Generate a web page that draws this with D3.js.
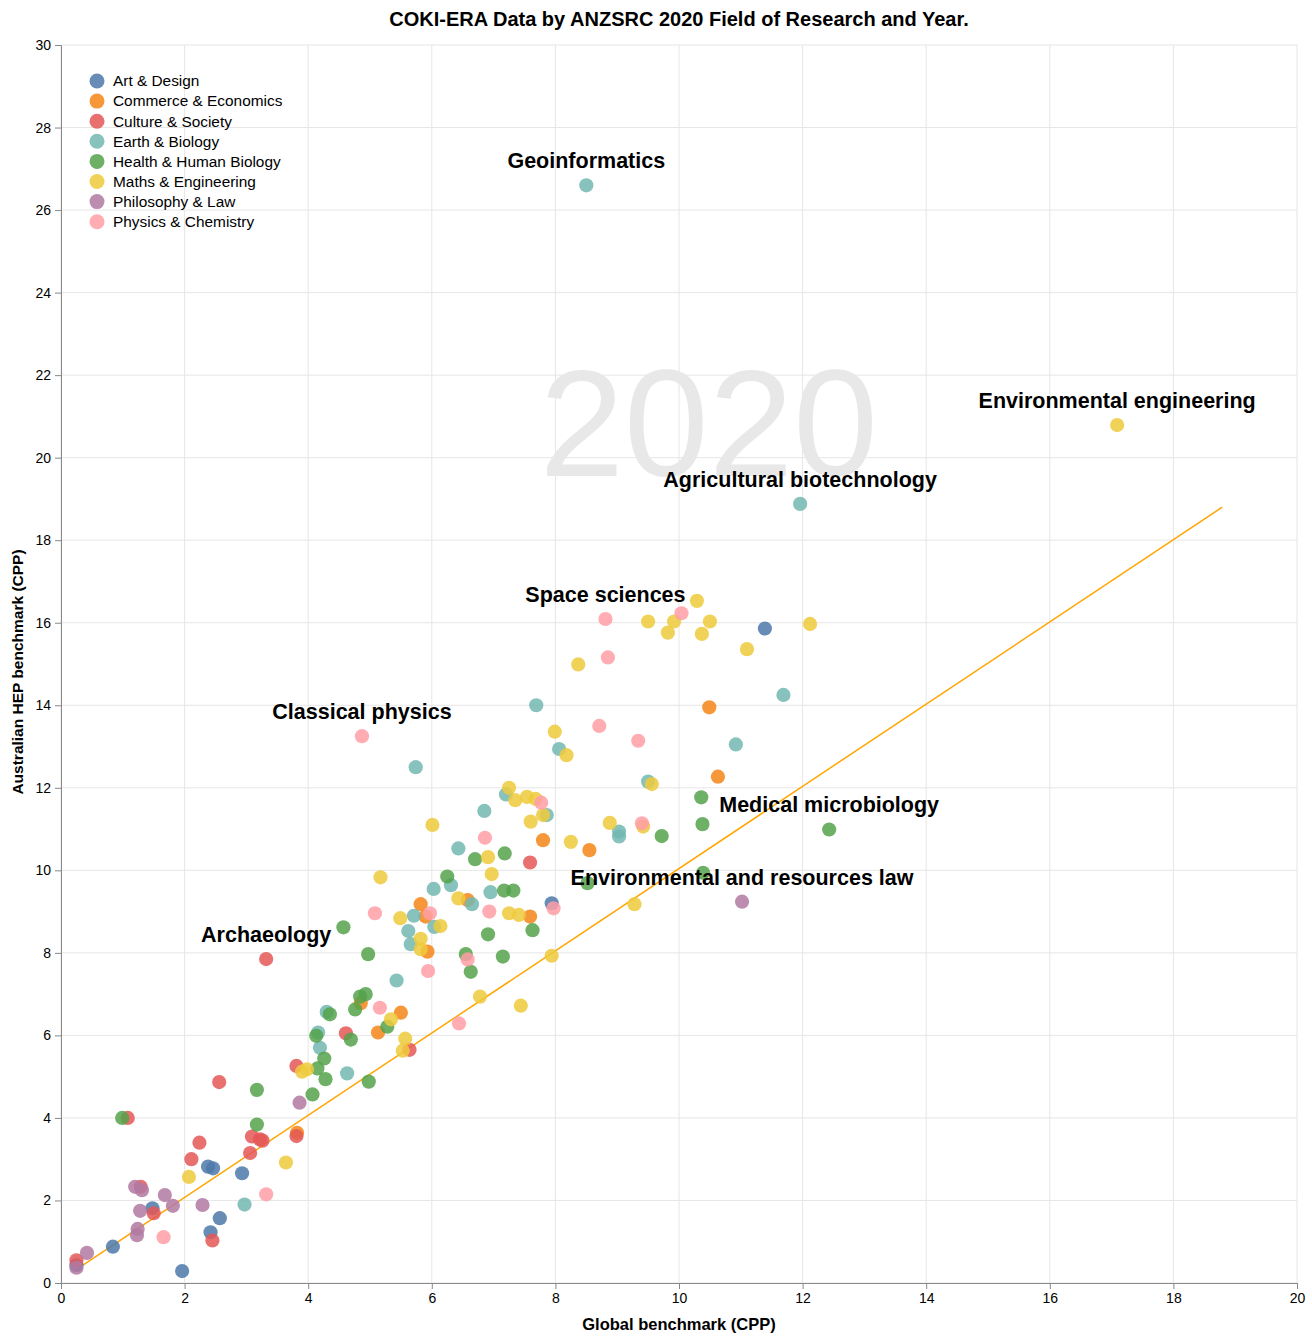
<!DOCTYPE html>
<html>
<head>
<meta charset="utf-8">
<script src="https://cdn.jsdelivr.net/npm/d3@7"></script>
<style>
html,body{margin:0;padding:0;background:#fff;}
svg{display:block;font-family:"Liberation Sans",Arial,Helvetica,sans-serif;}
</style>
</head>
<body>
<svg id="chart" width="1312" height="1336"></svg>
<script>
// ---- Data ----
const categories = ["Art & Design","Commerce & Economics","Culture & Society","Earth & Biology","Health & Human Biology","Maths & Engineering","Philosophy & Law","Physics & Chemistry"];
const colors = ["#4c78a8","#f58518","#e45756","#72b7b2","#54a24b","#eeca3b","#b279a2","#ff9da6"];

const artDesign = [[0.84,0.88],[1.48,1.81],[1.96,0.29],[2.57,1.57],[2.42,1.23],[2.38,2.82],[2.46,2.78],[2.93,2.66],[11.39,15.86],[7.94,9.2],[0.25,0.43]];
const commerceEconomics = [[3.82,3.64],[4.85,6.78],[5.5,6.55],[5.13,6.07],[5.82,9.18],[5.9,8.88],[5.93,8.03],[6.58,9.28],[7.59,8.88],[7.8,10.73],[8.55,10.49],[10.49,13.95],[10.63,12.27]];
const cultureSociety = [[0.25,0.55],[1.29,2.33],[1.5,1.69],[2.45,1.03],[2.56,4.87],[3.09,3.55],[3.22,3.48],[3.26,3.45],[2.24,3.4],[2.11,3.0],[3.06,3.15],[3.81,3.56],[3.81,5.26],[4.61,6.05],[5.64,5.65],[7.59,10.19],[3.32,7.85],[1.08,4.0]];
const earthBiology = [[2.97,1.9],[4.63,5.08],[4.19,5.7],[4.16,6.07],[4.3,6.57],[5.43,7.33],[6.03,9.55],[6.31,9.64],[5.71,8.9],[6.04,8.63],[5.62,8.53],[5.66,8.21],[6.65,9.18],[6.95,9.47],[5.74,12.5],[8.06,12.94],[7.2,11.84],[7.86,11.34],[6.85,11.44],[6.43,10.53],[11.69,14.25],[7.69,14.0],[10.92,13.05],[9.5,12.15],[9.03,10.94],[9.03,10.82],[8.5,26.6],[11.96,18.88]];
const healthHumanBiology = [[0.99,4.0],[3.17,4.68],[3.17,3.84],[4.07,4.57],[4.15,5.2],[4.26,5.44],[4.28,4.94],[4.98,4.88],[4.13,5.99],[4.35,6.51],[4.76,6.63],[4.69,5.9],[4.84,6.94],[4.93,7.0],[5.28,6.21],[4.57,8.62],[4.97,7.97],[6.25,9.85],[7.17,9.51],[7.32,9.51],[6.91,8.45],[6.55,7.97],[6.63,7.54],[7.15,7.91],[6.7,10.27],[7.18,10.41],[7.63,8.55],[8.52,9.69],[10.36,11.77],[10.38,11.12],[9.72,10.83],[12.43,10.99],[10.39,9.94]];
const mathsEngineering = [[2.07,2.57],[3.64,2.92],[3.9,5.12],[3.98,5.18],[5.34,6.39],[5.57,5.92],[5.53,5.63],[5.17,9.83],[5.49,8.84],[6.14,8.65],[5.82,8.34],[5.82,8.09],[6.43,9.32],[7.25,8.96],[7.41,8.92],[6.78,6.94],[6.97,9.91],[6.91,10.32],[6.01,11.1],[8.18,12.79],[7.25,12.0],[7.35,11.7],[7.54,11.78],[7.68,11.73],[7.8,11.34],[7.6,11.18],[8.25,10.69],[10.29,16.53],[9.5,16.03],[9.92,16.03],[10.5,16.03],[9.82,15.76],[10.37,15.73],[11.1,15.36],[8.37,14.99],[7.99,13.36],[9.56,12.09],[8.88,11.15],[9.42,11.06],[9.28,9.18],[7.94,7.93],[7.44,6.72],[17.09,20.79],[12.12,15.97]];
const philosophyLaw = [[0.25,0.37],[0.42,0.73],[1.2,2.33],[1.31,2.25],[1.28,1.75],[1.24,1.31],[1.23,1.16],[1.68,2.13],[1.81,1.87],[2.29,1.89],[3.86,4.37],[11.02,9.24]];
const physicsChemistry = [[1.66,1.11],[3.32,2.15],[5.16,6.67],[5.08,8.96],[5.97,8.96],[5.94,7.56],[6.93,9.0],[6.58,7.84],[6.44,6.29],[6.86,10.79],[7.77,11.64],[7.97,9.08],[8.81,16.09],[10.04,16.23],[8.85,15.16],[8.71,13.5],[9.34,13.14],[9.4,11.14],[4.87,13.25]];

const seriesValues = [artDesign,commerceEconomics,cultureSociety,earthBiology,healthHumanBiology,mathsEngineering,philosophyLaw,physicsChemistry];

const annotationLabels = ["Geoinformatics","Environmental engineering","Agricultural biotechnology","Space sciences","Classical physics","Medical microbiology","Environmental and resources law","Archaeology"];
const annotationX = [8.5,17.09,11.96,8.81,4.87,12.43,11.02,3.32];
const annotationY = [26.6,20.79,18.88,16.09,13.25,10.99,9.24,7.85];

const trendX = [0.21,18.79];
const trendY = [0.29,18.80];

const xTicks = [0,2,4,6,8,10,12,14,16,18,20];
const yTicks = [0,2,4,6,8,10,12,14,16,18,20,22,24,26,28,30];

const titleText = "COKI-ERA Data by ANZSRC 2020 Field of Research and Year.";
const xTitle = "Global benchmark (CPP)";
const yTitle = "Australian HEP benchmark (CPP)";
const yearLabel = "2020";

// ---- Chart ----
const svg = d3.select("#chart");
const mLeft = 61, mRight = 1297, mTop = 45, mBottom = 1283;
const x = d3.scaleLinear().domain([0,20]).range([mLeft,mRight]);
const y = d3.scaleLinear().domain([0,30]).range([mBottom,mTop]);
const color = d3.scaleOrdinal().domain(categories).range(colors);

// grid
const grid = svg.append("g");
grid.selectAll("line.gx").data(xTicks).join("line").attr("class","gx")
  .attr("x1",d=>x(d)).attr("x2",d=>x(d)).attr("y1",mTop).attr("y2",mBottom)
  .attr("stroke","#e6e6e6").attr("stroke-width",1);
grid.selectAll("line.gy").data(yTicks).join("line").attr("class","gy")
  .attr("y1",d=>y(d)).attr("y2",d=>y(d)).attr("x1",mLeft).attr("x2",mRight)
  .attr("stroke","#e6e6e6").attr("stroke-width",1);

// watermark year
svg.append("text").attr("x",x(10.48)).attr("y",476)
  .attr("text-anchor","middle").attr("font-size",152).attr("fill","#e8e8e8")
  .text(yearLabel);

// axes
const xAxis = d3.axisBottom(x).tickValues(xTicks).tickSize(6).tickPadding(4);
const yAxis = d3.axisLeft(y).tickValues(yTicks).tickSize(6).tickPadding(4);
const gx = svg.append("g").attr("transform",`translate(0,${mBottom})`).call(xAxis);
const gy = svg.append("g").attr("transform",`translate(${mLeft},0)`).call(yAxis);
[gx,gy].forEach(g=>{
  g.select(".domain").attr("stroke","#888");
  g.selectAll(".tick line").attr("stroke","#888");
  g.selectAll(".tick text").attr("font-size",14).attr("fill","#000")
    .attr("font-family","'Liberation Sans',Arial,sans-serif");
});

// trend line
svg.append("line")
  .attr("x1",x(trendX[0])).attr("y1",y(trendY[0]))
  .attr("x2",x(trendX[1])).attr("y2",y(trendY[1]))
  .attr("stroke","#ffa500").attr("stroke-width",1.5);

// points
const pts = [];
seriesValues.forEach((arr,i)=>arr.forEach(p=>pts.push({c:categories[i],x:p[0],y:p[1]})));
svg.append("g").selectAll("circle").data(pts).join("circle")
  .attr("cx",d=>x(d.x)).attr("cy",d=>y(d.y)).attr("r",7.1)
  .attr("fill",d=>color(d.c)).attr("fill-opacity",0.85);

// annotations
svg.append("g").selectAll("text").data(annotationLabels).join("text")
  .attr("x",(d,i)=>x(annotationX[i])).attr("y",(d,i)=>y(annotationY[i])-17)
  .attr("text-anchor","middle").attr("font-size",21.5).attr("font-weight","bold")
  .attr("fill","#000").text(d=>d);

// legend
const lg = svg.append("g").attr("transform","translate(97,81)");
const li = lg.selectAll("g").data(categories).join("g").attr("transform",(d,i)=>`translate(0,${i*20.1})`);
li.append("circle").attr("r",7.5).attr("fill",d=>color(d)).attr("fill-opacity",0.85);
li.append("text").attr("x",16).attr("dy","0.35em").attr("font-size",15.4).attr("fill","#000").text(d=>d);

// titles
svg.append("text").attr("x",(mLeft+mRight)/2).attr("y",26).attr("text-anchor","middle")
  .attr("font-size",20).attr("font-weight","bold").text(titleText);
svg.append("text").attr("x",(mLeft+mRight)/2).attr("y",1330).attr("text-anchor","middle")
  .attr("font-size",16.5).attr("font-weight","bold").text(xTitle);
svg.append("text").attr("transform",`translate(23,${(mTop+mBottom)/2 + 8}) rotate(-90)`)
  .attr("text-anchor","middle").attr("font-size",15.5).attr("font-weight","bold").text(yTitle);
</script>
</body>
</html>
